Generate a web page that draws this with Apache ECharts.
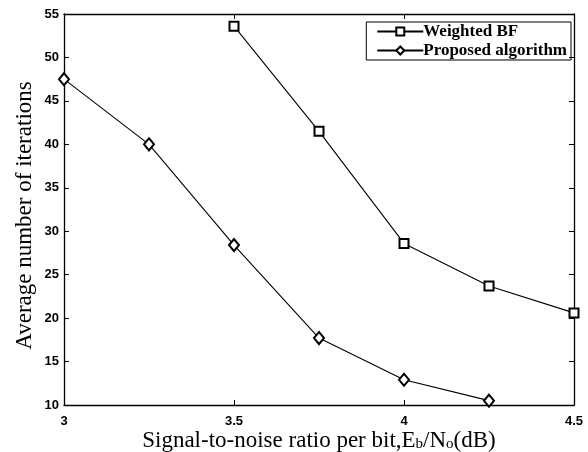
<!DOCTYPE html>
<html>
<head>
<meta charset="utf-8">
<script src="https://cdn.jsdelivr.net/npm/echarts@6/dist/echarts.min.js"></script>
<style>
  html, body { margin: 0; padding: 0; background: #fff; }
  #chart { width: 588px; height: 452px; }
</style>
</head>
<body>
<div id="chart"></div>
<script>
  // x: Eb/No (dB)
  var snrWeighted = [3.5, 3.75, 4, 4.25, 4.5];
  var iterWeighted = [53.6, 41.5, 28.6, 23.7, 20.6];
  var snrProposed = [3, 3.25, 3.5, 3.75, 4, 4.25];
  var iterProposed = [47.5, 40, 28.4, 17.7, 12.9, 10.5];
  var seriesNames = ['Weighted BF', 'Proposed algorithm'];

  function pairs(xs, ys) {
    var out = [];
    for (var i = 0; i < xs.length; i++) out.push([xs[i], ys[i]]);
    return out;
  }

  var labelFont = { fontFamily: 'Liberation Sans', fontWeight: 'bold', fontSize: 13, color: '#000' };
  var tick = { show: true, inside: true, length: 5, lineStyle: { color: '#000', width: 1 } };
  var line = { show: true, onZero: false, lineStyle: { color: '#000', width: 1.3 } };

  var chart = echarts.init(document.getElementById('chart'));
  chart.setOption({
    animation: false,
    backgroundColor: '#fff',
    grid: { left: 64, right: 14, top: 14, bottom: 47, outerBoundsMode: 'none' },
    legend: {
      data: seriesNames,
      orient: 'vertical',
      right: 17,
      top: 22,
      padding: [1, 4, 1, 10],
      itemGap: 2,
      itemWidth: 46,
      itemHeight: 10,
      borderColor: '#000',
      borderWidth: 1,
      textStyle: { fontFamily: 'Liberation Serif', fontWeight: 'bold', fontSize: 17, color: '#000', padding: [0, 0, 0, -5] }
    },
    xAxis: [{
      type: 'value', min: 3, max: 4.5, interval: 0.5,
      axisLine: line, axisTick: tick, splitLine: { show: false },
      axisLabel: Object.assign({ margin: 10 }, labelFont),
      name: 'Signal-to-noise ratio per bit,E{s|b}/N{s|o}(dB)',
      nameLocation: 'middle',
      nameGap: 24,
      nameMoveOverlap: false,
      nameTextStyle: {
        fontFamily: 'Liberation Serif', fontSize: 23, color: '#000',
        rich: { s: { fontFamily: 'Liberation Serif', fontSize: 15, color: '#000', padding: [8, 0, 0, 0] } }
      }
    }, {
      type: 'value', min: 3, max: 4.5, interval: 0.5, position: 'top',
      axisLine: line, axisTick: tick, axisLabel: { show: false }, splitLine: { show: false }
    }],
    yAxis: [{
      type: 'value', min: 10, max: 55, interval: 5,
      axisLine: line, axisTick: tick, splitLine: { show: false },
      axisLabel: Object.assign({ margin: 5 }, labelFont),
      name: 'Average number of iterations',
      nameLocation: 'middle',
      nameGap: 28,
      nameMoveOverlap: false,
      nameTextStyle: { fontFamily: 'Liberation Serif', fontSize: 23, color: '#000', padding: [0, 12, 0, 0] }
    }, {
      type: 'value', min: 10, max: 55, interval: 5, position: 'right',
      axisLine: line, axisTick: tick, axisLabel: { show: false }, splitLine: { show: false }
    }],
    series: [{
      name: seriesNames[0],
      type: 'line',
      data: pairs(snrWeighted, iterWeighted),
      symbol: 'emptyRect',
      symbolSize: 9,
      color: '#000',
      itemStyle: { color: '#000', borderColor: '#000', borderWidth: 1.3 },
      lineStyle: { color: '#000', width: 1.1 }
    }, {
      name: seriesNames[1],
      type: 'line',
      data: pairs(snrProposed, iterProposed),
      symbol: 'emptyDiamond',
      symbolSize: [10, 12],
      color: '#000',
      itemStyle: { color: '#000', borderColor: '#000', borderWidth: 1.3 },
      lineStyle: { color: '#000', width: 1.1 }
    }]
  });
</script>
</body>
</html>
